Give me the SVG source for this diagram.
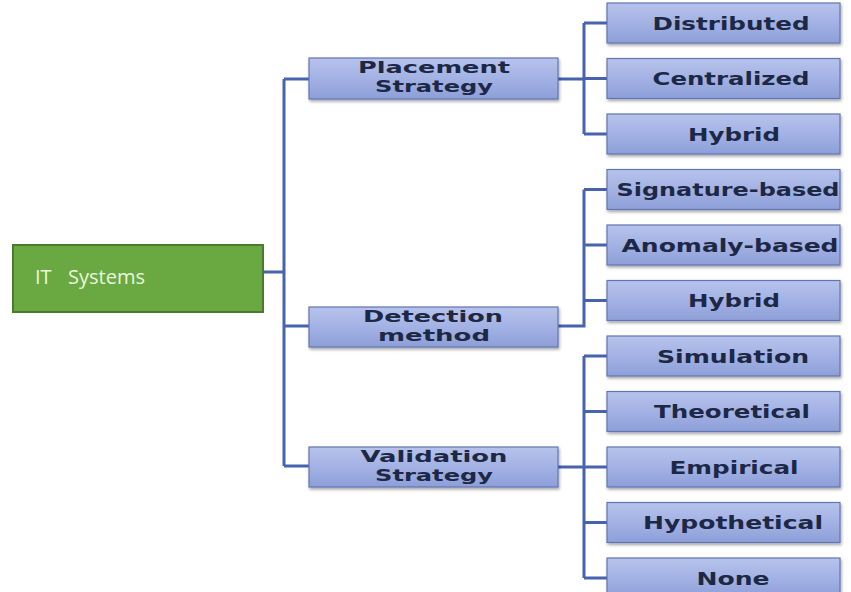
<svg xmlns="http://www.w3.org/2000/svg" width="851" height="592" viewBox="0 0 851 592">
<defs>
<linearGradient id="bg" x1="0" y1="0" x2="0" y2="1">
<stop offset="0" stop-color="#b7c3ec"/>
<stop offset="0.5" stop-color="#a3b2e4"/>
<stop offset="1" stop-color="#8d9fd9"/>
</linearGradient>
<filter id="sh" x="-5%" y="-20%" width="110%" height="150%">
<feGaussianBlur in="SourceAlpha" stdDeviation="1.5"/>
<feOffset dx="1" dy="2" result="b"/>
<feComponentTransfer><feFuncA type="linear" slope="0.35"/></feComponentTransfer>
<feMerge><feMergeNode/><feMergeNode in="SourceGraphic"/></feMerge>
</filter>
</defs>
<style>
.box{fill:url(#bg);stroke:#6275b3;stroke-width:1.2;filter:url(#sh)}
.t{font-family:"DejaVu Sans",Verdana,sans-serif;font-weight:bold;font-size:17px;fill:#1d2845;text-anchor:middle}
.m{font-size:15px}
.ln{fill:none;stroke:#4863ad;stroke-width:3;stroke-linejoin:miter}
.root{fill:#6aa841;stroke:#4b7a2c;stroke-width:2}
.rt{font-family:"Open Sans","Liberation Sans",sans-serif;font-size:20px;fill:#eaf6dc}
</style>
<rect width="851" height="592" fill="#ffffff"/>
<g id="connectors">
<path class="ln" d="M263 272 H284 M284 79 V466 M284 79 H309 M284 326 H309 M284 466 H309"/>
<path class="ln" d="M558 79 H584 M584 23 V134 M584 23 H607 M584 78.5 H607 M584 134 H607"/>
<path class="ln" d="M558 326 H584 V189.5 M584 189.5 H607 M584 245 H607 M584 300.5 H607"/>
<path class="ln" d="M558 467 H584 M584 356 V578 M584 356 H607 M584 411.5 H607 M584 467 H607 M584 522.5 H607 M584 578 H607"/>
</g>
<g id="it-systems">
<rect class="root" x="13" y="245" width="250" height="67"/>
<text class="rt" x="35" y="284">IT <tspan x="68">Systems</tspan></text>
</g>
<g id="placement">
<rect class="box" x="309" y="58" width="249" height="41"/>
<text class="t m" x="434" y="73" textLength="152" lengthAdjust="spacingAndGlyphs">Placement</text>
<text class="t m" x="434" y="92" textLength="118" lengthAdjust="spacingAndGlyphs">Strategy</text>
</g>
<g id="detection">
<rect class="box" x="309" y="307" width="249" height="40"/>
<text class="t m" x="433" y="322" textLength="140" lengthAdjust="spacingAndGlyphs">Detection</text>
<text class="t m" x="434" y="341" textLength="112" lengthAdjust="spacingAndGlyphs">method</text>
</g>
<g id="validation">
<rect class="box" x="309" y="447" width="249" height="40"/>
<text class="t m" x="434" y="462" textLength="147" lengthAdjust="spacingAndGlyphs">Validation</text>
<text class="t m" x="434" y="481" textLength="118" lengthAdjust="spacingAndGlyphs">Strategy</text>
</g>
<g id="distributed">
<rect class="box" x="607" y="3" width="233" height="40"/>
<text class="t" x="731" y="30" textLength="157" lengthAdjust="spacingAndGlyphs">Distributed</text>
</g>
<g id="centralized">
<rect class="box" x="607" y="58.5" width="233" height="40"/>
<text class="t" x="731" y="85" textLength="157" lengthAdjust="spacingAndGlyphs">Centralized</text>
</g>
<g id="hybrid-placement">
<rect class="box" x="607" y="114" width="233" height="40"/>
<text class="t" x="734" y="140.5" textLength="92" lengthAdjust="spacingAndGlyphs">Hybrid</text>
</g>
<g id="signature-based">
<rect class="box" x="607" y="169.5" width="233" height="40"/>
<text class="t" x="728" y="196" textLength="223" lengthAdjust="spacingAndGlyphs">Signature-based</text>
</g>
<g id="anomaly-based">
<rect class="box" x="607" y="225" width="233" height="40"/>
<text class="t" x="730" y="251.5" textLength="217" lengthAdjust="spacingAndGlyphs">Anomaly-based</text>
</g>
<g id="hybrid-detection">
<rect class="box" x="607" y="280.5" width="233" height="40"/>
<text class="t" x="734" y="307" textLength="92" lengthAdjust="spacingAndGlyphs">Hybrid</text>
</g>
<g id="simulation">
<rect class="box" x="607" y="336" width="233" height="40"/>
<text class="t" x="733" y="362.5" textLength="152" lengthAdjust="spacingAndGlyphs">Simulation</text>
</g>
<g id="theoretical">
<rect class="box" x="607" y="391.5" width="233" height="40"/>
<text class="t" x="732" y="418" textLength="156" lengthAdjust="spacingAndGlyphs">Theoretical</text>
</g>
<g id="empirical">
<rect class="box" x="607" y="447" width="233" height="40"/>
<text class="t" x="734" y="473.5" textLength="129" lengthAdjust="spacingAndGlyphs">Empirical</text>
</g>
<g id="hypothetical">
<rect class="box" x="607" y="502.5" width="233" height="40"/>
<text class="t" x="733" y="529" textLength="180" lengthAdjust="spacingAndGlyphs">Hypothetical</text>
</g>
<g id="none">
<rect class="box" x="607" y="558" width="233" height="40"/>
<text class="t" x="733" y="584.5" textLength="73" lengthAdjust="spacingAndGlyphs">None</text>
</g>
</svg>
